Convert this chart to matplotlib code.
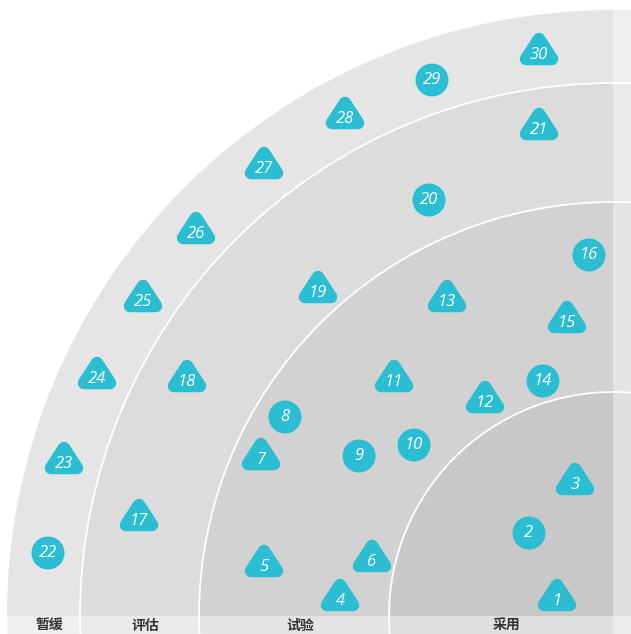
import matplotlib
matplotlib.use("Agg")
from matplotlib import pyplot as plt
from matplotlib.patches import Circle, Polygon, Rectangle

# ring names, outer to inner, and their outer radius (radar units)
rings = ["暂缓", "评估", "试验", "采用"]
ring_radius = [606, 533, 414, 224]
ring_colors = ["#e5e5e5", "#dcdcdc", "#d2d2d2", "#c8c8c8"]

# blips: number, shape, x, y (offset from radar centre)
blip_ids = list(range(1, 31))
blip_shape = ["t", "c", "t", "t", "t", "t", "t", "c", "c", "c",
              "t", "t", "t", "c", "t", "c", "t", "t", "t", "c",
              "t", "c", "t", "t", "t", "t", "t", "t", "c", "t"]
blip_x = [-56, -84, -38, -273, -349, -241, -352, -328, -254, -199,
          -219, -128, -166, -70, -46, -24, -474, -426, -295, -184,
          -74, -565, -549, -516, -470, -417, -349, -268, -181, -74]
blip_y = [16, 83, 132, 16, 50, 55, 157, 199, 160, 171,
          235, 214, 315, 235, 294, 361, 96, 235, 324, 416,
          487, 63, 153, 238, 315, 383, 448, 498, 536, 562]

blip_color = "#2bbdd2"

fig = plt.figure(figsize=(6.31, 6.34), dpi=100)
ax = fig.add_axes([0, 0, 1, 1])
ax.set_xlim(-613, 18)
ax.set_ylim(-18, 616)
ax.set_aspect("equal")
ax.axis("off")

for r, col in zip(ring_radius, ring_colors):
    ax.add_patch(Circle((0, 0), r, facecolor=col, edgecolor="none", zorder=1))
for r in ring_radius[1:]:
    ax.add_patch(Circle((0, 0), r, facecolor="none", edgecolor="white", lw=1.3, zorder=2))

# translucent label bands
ax.add_patch(Rectangle((-620, -20), 660, 20, facecolor="white", alpha=0.42, edgecolor="none", zorder=3))
ax.add_patch(Rectangle((0, -20), 30, 660, facecolor="white", alpha=0.42, edgecolor="none", zorder=3))

# ring labels
edges = ring_radius + [0]
for i, name in enumerate(rings):
    mid = -(edges[i] + edges[i + 1]) / 2 + 6
    ax.text(mid, -10, name, ha="center", va="center", fontsize=10, fontweight="bold",
            color="#333333", family=["Noto Sans CJK SC", "DejaVu Sans"], zorder=4)

for n, s, x, y in zip(blip_ids, blip_shape, blip_x, blip_y):
    ty = y
    if s == "c":
        ax.add_patch(Circle((x, y), 16.5, facecolor=blip_color, edgecolor="none", zorder=5))
    else:
        cy = y + 2
        tri = [(x, cy + 13), (x - 13, cy - 7), (x + 13, cy - 7)]
        ax.add_patch(Polygon(tri, closed=True, facecolor=blip_color, edgecolor=blip_color,
                             lw=9, joinstyle="round", zorder=5))
        ty = y - 1
    ax.text(x, ty, str(n), ha="center", va="center", fontsize=12, style="italic",
            color="white", family=["Open Sans", "DejaVu Sans"], zorder=6)

fig.savefig("out.png", dpi=100)
